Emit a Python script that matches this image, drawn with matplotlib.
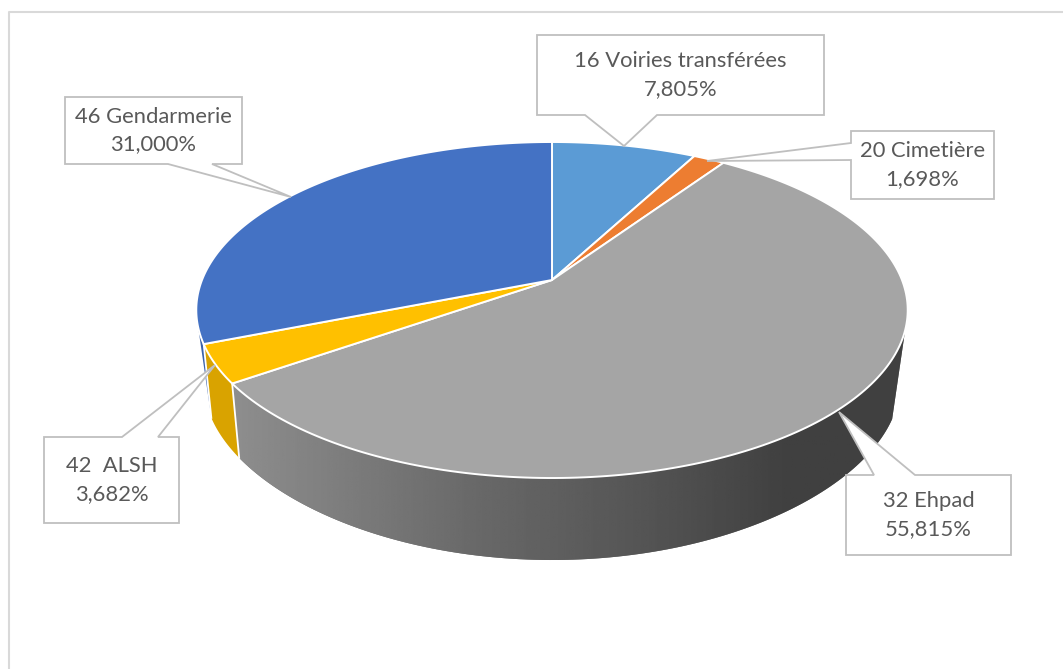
import numpy as np
import matplotlib
matplotlib.use("Agg")
import matplotlib.pyplot as plt
from matplotlib.patches import Polygon

plt.rcParams["font.family"] = ["Lato", "DejaVu Sans"]

# clockwise from 12 o'clock
names = ["16 Voiries transférées", "20 Cimetière", "32 Ehpad", "42  ALSH", "46 Gendarmerie"]
shares = [7.805, 1.698, 55.815, 3.682, 31.000]
share_labels = ["7,805%", "1,698%", "55,815%", "3,682%", "31,000%"]
colors = ["#5B9BD5", "#ED7D31", "#A5A5A5", "#FFC000", "#4472C4"]
side_colors = ["#4A7FAE", "#C1652A", "#707070", "#D9A300", "#3A62AB"]

GRID = "#BFBFBF"
TEXT = "#595959"

CX, CY = 552, 280
A, K = 350, 0.1786
RIGHT_LIMIT, LEFT_LIMIT = 107, 254
Y_BOTTOM, B2, K2, XS = 356, 152.6, 0.252, 0.978


def top_rim(deg):
    t = np.radians(deg)
    u, v = np.sin(t), np.cos(t)
    den = 1 + K * v
    b = 138 * (1 + K)
    return CX + A * u / den, CY - b * v / den


def bottom_rim(deg):
    t = np.radians(deg)
    u, v = np.sin(t), np.cos(t)
    x = CX + XS * A * u / (1 + K * v)
    y = Y_BOTTOM - B2 * v / (1 - K2 * np.minimum(v, 0) * -1)
    return x, y


def arc(func, a0, a1, n=120):
    x, y = func(np.linspace(a0, a1, n))
    return np.column_stack([x, y])


fig = plt.figure(figsize=(10.63, 6.69), dpi=100)
ax = fig.add_axes([0, 0, 1, 1])
ax.set_xlim(0, 1063)
ax.set_ylim(669, 0)
ax.axis("off")

# chart frame, only left and top are visible in the crop
ax.plot([9, 9, 1063], [669, 12, 12], color="#D9D9D9", lw=1.5, zorder=1)

edges = np.concatenate([[0], np.cumsum(shares)]) * 3.6

# side wall
for i in range(len(shares)):
    a0, a1 = max(edges[i], RIGHT_LIMIT), min(edges[i + 1], LEFT_LIMIT)
    if a1 <= a0:
        continue
    b0, b1 = max(a0, 112), min(a1, 248.4)
    if b1 <= b0:
        b0 = b1 = min(a1, 248.4)
    pts = np.vstack([arc(top_rim, a0, a1), arc(bottom_rim, b1, b0)])
    wall = Polygon(pts, closed=True, facecolor=side_colors[i], edgecolor="none", zorder=2)
    ax.add_patch(wall)
    if names[i] == "32 Ehpad":
        # lighter on the left, flat dark on the right
        stops = np.array([[232, 0x8E], [480, 0x68], [640, 0x55], [790, 0x40], [910, 0x40]])
        xs = np.linspace(225, 910, 340)
        grey = np.interp(xs, stops[:, 0], stops[:, 1]) / 255
        im = ax.imshow(grey[None, :], extent=(225, 910, 570, 300), cmap="gray", vmin=0, vmax=1,
                       aspect="auto", zorder=2.1)
        im.set_clip_path(wall)
        ax.set_xlim(0, 1063)
        ax.set_ylim(669, 0)

# white seams on the wall
for a in edges[3:5]:
    x0, y0 = top_rim(a)
    x1, y1 = bottom_rim(a)
    ax.plot([x0, x1], [y0, y1], color="white", lw=1.3, zorder=3)

# top face
for i in range(len(shares)):
    pts = np.vstack([[[CX, CY]], arc(top_rim, edges[i], edges[i + 1], 200)])
    ax.add_patch(Polygon(pts, closed=True, facecolor=colors[i], edgecolor="white", lw=1.4,
                         joinstyle="round", zorder=4))

# callouts: box left, top, right, bottom, then the two pointer roots and the tip
callouts = [
    (537, 35, 824, 115, (585, 115), (657, 115), (624, 146)),
    (851, 131, 994, 199, (851, 143), (851, 160), (707, 161)),
    (846, 475, 1011, 555, (874, 475), (915, 475), (839, 412)),
    (44, 437, 179, 523, (122, 437), (158, 437), (215, 365)),
    (65, 97, 242, 164, (168, 164), (212, 164), (291, 197)),
]
for i, (l, t, r, b, p0, p1, tip) in enumerate(callouts):
    if p0[1] == b:
        outline = [(l, t), (r, t), (r, b), p1, tip, p0, (l, b)]
    elif p0[1] == t:
        outline = [(l, t), p0, tip, p1, (r, t), (r, b), (l, b)]
    else:
        outline = [(l, t), (r, t), (r, b), (l, b), p1, tip, p0]
    ax.add_patch(Polygon(outline, closed=True, facecolor="white", edgecolor=GRID, lw=1.3,
                         joinstyle="miter", zorder=5))
    ax.text((l + r) / 2, (t + b) / 2, names[i] + "\n" + share_labels[i], ha="center", va="center",
            color=TEXT, fontsize=15.8, linespacing=1.45, zorder=6)

fig.savefig("out.png", dpi=100)
